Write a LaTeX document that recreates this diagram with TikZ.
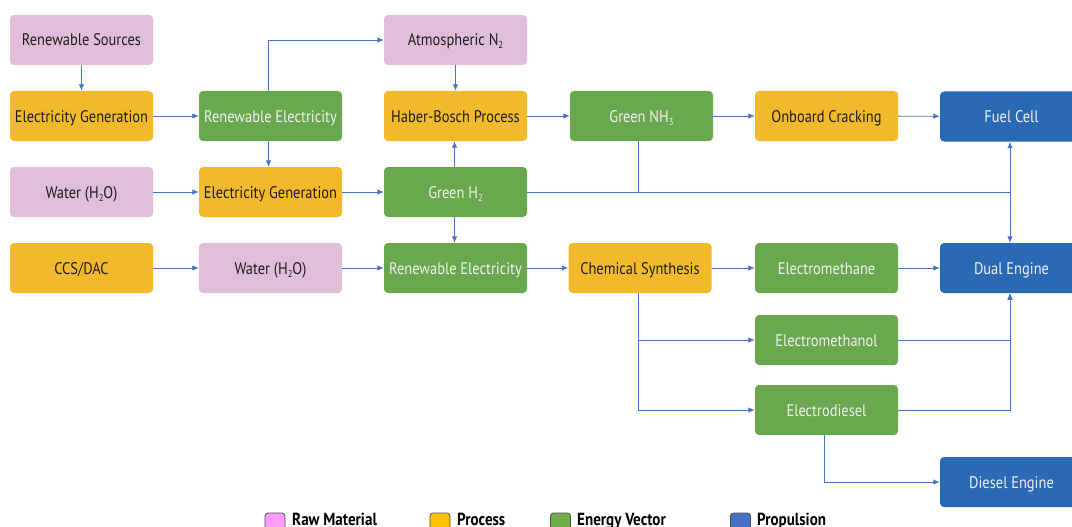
\documentclass[tikz,border=0pt]{standalone}
\usepackage{fontspec}
\setmainfont{PT Sans}[FakeStretch=0.86]
\usetikzlibrary{arrows.meta}
\definecolor{rawc}{RGB}{224,189,216}
\definecolor{proc}{RGB}{242,185,45}
\definecolor{envc}{RGB}{106,168,79}
\definecolor{prop}{RGB}{42,106,181}
\definecolor{linec}{RGB}{68,114,196}
\definecolor{darktxt}{RGB}{30,30,30}
\definecolor{lgpink}{RGB}{255,158,255}
\definecolor{lggold}{RGB}{255,192,0}
\definecolor{lggreen}{RGB}{112,173,71}
\definecolor{lgblue}{RGB}{68,114,196}
\newcommand{\subsc}[1]{\raisebox{-3pt}{\fontsize{10}{10}\selectfont #1}}
\tikzset{
  box/.style={rectangle, rounded corners=4pt, minimum width=143pt, minimum height=50pt, inner sep=0pt, text height=12pt, text depth=0pt, font=\fontsize{16.8}{18}\selectfont},
  raw/.style={box, fill=rawc, text=darktxt},
  process/.style={box, fill=proc, text=darktxt},
  vector/.style={box, fill=envc, text=white!94!black},
  propul/.style={box, fill=prop, text=white!94!black},
  conn/.style={draw=linec, line width=0.9pt},
  arr/.style={conn, -{Latex[length=6.5pt,width=5.5pt]}},
  lgsq/.style={draw=black!70, line width=0.8pt, rounded corners=3pt, minimum width=20pt, minimum height=20pt, inner sep=0pt},
  lgtxt/.style={anchor=base west, inner sep=0pt, font=\fontsize{17.5}{19}\bfseries\selectfont, text=black}
}
\begin{document}
\begin{tikzpicture}[x=1pt,y=-1pt]
\useasboundingbox (0,0) rectangle (1072,527);
\clip (0,0) rectangle (1072,527);
\fill[white] (0,0) rectangle (1072,527);
% row 1
\node[raw] (rs) at (81.5,40) {Renewable Sources};
\node[raw] (atm) at (455.5,40) {Atmospheric N\subsc{2}};
% row 2
\node[process] (eg1) at (81.5,116) {Electricity Generation};
\node[vector] (re1) at (270.5,116) {Renewable Electricity};
\node[process] (hb) at (455.5,116) {Haber-Bosch Process};
\node[vector] (nh3) at (641.5,116) {Green NH\subsc{3}};
\node[process] (oc) at (826.5,116) {Onboard Cracking};
\node[propul] (fc) at (1011.5,116.5) {Fuel Cell};
% row 3
\node[raw] (w1) at (81.5,192) {Water (H\subsc{2}O)};
\node[process] (eg2) at (270.5,192) {Electricity Generation};
\node[vector] (gh2) at (455.5,192) {Green H\subsc{2}};
% row 4
\node[process] (ccs) at (81.5,268) {CCS/DAC};
\node[raw] (w2) at (270.5,268) {Water (H\subsc{2}O)};
\node[vector] (re2) at (455.5,268) {Renewable Electricity};
\node[process] (cs) at (640,268) {Chemical Synthesis};
\node[vector] (em) at (826.5,268) {Electromethane};
\node[propul] (de) at (1011.5,268) {Dual Engine};
% lower
\node[vector] (emol) at (826.5,340) {Electromethanol};
\node[vector] (edie) at (826.5,410) {Electrodiesel};
\node[propul] (dse) at (1011.5,482) {Diesel Engine};
% junctions
\coordinate (j1) at (1010,192);
\coordinate (j2) at (638.5,192);
\coordinate (j3) at (638,340);
% connectors
\draw[arr] (rs) -- (eg1);
\draw[arr] (eg1) -- (re1);
\draw[arr] ([xshift=-2pt]re1.north) |- (atm.west);
\draw[arr] (atm) -- (hb);
\draw[arr] ([xshift=-2pt]re1.south) -- ([xshift=-2pt]eg2.north);
\draw[arr] (w1) -- (eg2);
\draw[arr] (eg2) -- (gh2);
\draw[arr] ([xshift=-1pt]gh2.north) -- ([xshift=-1pt]hb.south);
\draw[arr] ([xshift=-1pt]gh2.south) -- ([xshift=-1pt]re2.north);
\draw[arr] (hb) -- (nh3);
\draw[arr] (nh3) -- (oc);
\draw[arr] (oc) -- (fc);
\draw[conn] (gh2.east) -- (j1);
\draw[conn] (nh3.south -| j2) -- (j2);
\draw[arr] (j1) -- (j1 |- fc.south);
\draw[arr] (j1) -- (j1 |- de.north);
\draw[arr] (ccs) -- (w2);
\draw[arr] (w2) -- (re2);
\draw[arr] (re2) -- (cs);
\draw[arr] (cs) -- (em);
\draw[arr] (em) -- (de);
\draw[arr] (cs.south -| j3) |- (emol.west);
\draw[arr] (cs.south -| j3) |- (edie.west);
\draw[arr] (emol.east) -| (j1 |- de.south);
\draw[arr] (edie.east) -| (j1 |- de.south);
\draw[arr] ([xshift=-2pt]edie.south) |- (dse.west);
% legend
\node[lgsq, fill=lgpink] (lg1) at (275,523) {};
\node[lgtxt] (lt1) at (292,525.5) {Raw Material};
\node[lgsq, fill=lggold] (lg2) at (440,523) {};
\node[lgtxt] (lt2) at (457,525.5) {Process};
\node[lgsq, fill=lggreen] (lg3) at (560.5,523) {};
\node[lgtxt] (lt3) at (577,525.5) {Energy Vector};
\node[lgsq, fill=lgblue] (lg4) at (740.5,523) {};
\node[lgtxt] (lt4) at (757,525.5) {Propulsion};
\end{tikzpicture}
\end{document}
